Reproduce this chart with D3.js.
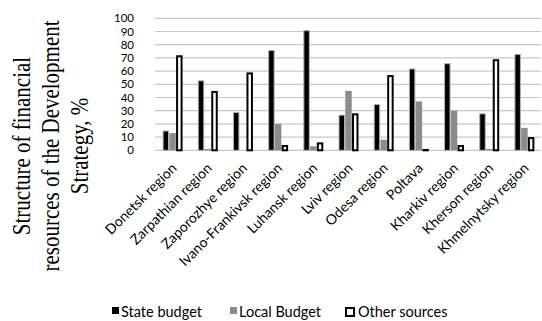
<!DOCTYPE html>
<html><head><meta charset="utf-8">
<script src="https://d3js.org/d3.v7.min.js"></script>
<style>body{margin:0;background:#fff}svg{display:block}</style>
</head><body><svg id="c" width="542" height="321"></svg>
<script>
const categories = ["Donetsk region","Zarpathian region","Zaporozhye region","Ivano-Frankivsk region","Luhansk region","Lviv region","Odesa region","Poltava","Kharkiv region","Kherson region","Khmelnytsky region"];
const stateBudget = [15,53,29,76,91,27,35,62,66,28,73];
const localBudget = [13,1,0,20,3,45,8,37,30,1,17];
const otherSources = [72,45,59,4,6,28,57,1,4,69,10];
const seriesNames = ["State budget","Local Budget","Other sources"];
const yTicks = [0,10,20,30,40,50,60,70,80,90,100];

const svg = d3.select("#c");
const x = d3.scaleBand().domain(categories).range([155,542]).paddingInner(0).paddingOuter(0);
const y = d3.scaleLinear().domain([0,100]).range([150.3,18.3]);
const x1 = d3.scaleBand().domain(seriesNames).range([0,20.5]).padding(0.04);
const gOff = (x.bandwidth()-20.5)/2;

// gridlines
svg.append("g").selectAll("line").data(yTicks).join("line")
  .attr("x1",155).attr("x2",541).attr("y1",d=>y(d)).attr("y2",d=>y(d))
  .attr("stroke","#c8c8c8").attr("stroke-width",1.2);

// y tick labels
const yAxis = d3.axisLeft(y).tickValues(yTicks).tickSize(0).tickPadding(0);
const ya = svg.append("g").attr("transform","translate(134,0)").call(yAxis);
ya.select(".domain").remove();
ya.selectAll("text").attr("font-family","Lato").attr("font-size",11.5).attr("fill","#000");

const rows = categories.map((c,i)=>({c, vals:[stateBudget[i],localBudget[i],otherSources[i]]}));
const fills = ["#000","#8c8c8c","#fff"];
const strokes = ["#b0b0b0","none","#000"];
const sw = [1,0,2];
const groups = svg.append("g").selectAll("g").data(rows).join("g")
  .attr("transform",d=>`translate(${x(d.c)+gOff},0)`);
groups.selectAll("rect").data(d=>d.vals.map((v,k)=>({v,k}))).join("rect")
  .attr("x",d=>x1(seriesNames[d.k]) + sw[d.k]/2)
  .attr("width",d=>x1.bandwidth()-sw[d.k])
  .attr("y",d=>y(d.v)+sw[d.k]/2)
  .attr("height",d=>Math.max(0,y(0)-y(d.v)-sw[d.k]/2))
  .attr("fill",d=>fills[d.k]).attr("stroke",d=>strokes[d.k]).attr("stroke-width",d=>sw[d.k]);

// x labels
const xAxis = d3.axisBottom(x).tickSize(0).tickPadding(0);
const xa = svg.append("g").attr("transform","translate(0,150)").call(xAxis);
xa.select(".domain").remove();
xa.selectAll("text").attr("font-family","Lato").attr("font-size",14).attr("fill","#000")
  .attr("text-anchor","end").attr("dy",0)
  .attr("transform","translate(5,19) rotate(-45)");

// y title
const titleLines = ["Structure of financial","resources of the Development","Strategy, %"];
const title = svg.append("text").attr("font-family","Liberation Serif").attr("font-size",21)
  .attr("text-anchor","middle").attr("transform","translate(0,146) rotate(-90) scale(1,1.15)");
titleLines.forEach((t,i)=>{
  title.append("tspan").attr("x",0).attr("y",(30+i*29)/1.15).text(t);
});

// legend
const lx = [112,230,345];
const lg = svg.append("g").selectAll("g").data(seriesNames).join("g")
  .attr("transform",(d,i)=>`translate(${lx[i]},312)`);
lg.append("rect").attr("x",(d,i)=>i===2?1:0).attr("y",(d,i)=>i===2?-4:-5)
  .attr("width",(d,i)=>i===2?8:7).attr("height",(d,i)=>i===2?8:7)
  .attr("fill",(d,i)=>fills[i]).attr("stroke",(d,i)=>i===2?"#000":"none").attr("stroke-width",2);
lg.append("text").attr("x",(d,i)=>i===2?13:9).attr("y",5).attr("font-family","Lato").attr("font-size",14.5)
  .text(d=>d);
</script></body></html>
